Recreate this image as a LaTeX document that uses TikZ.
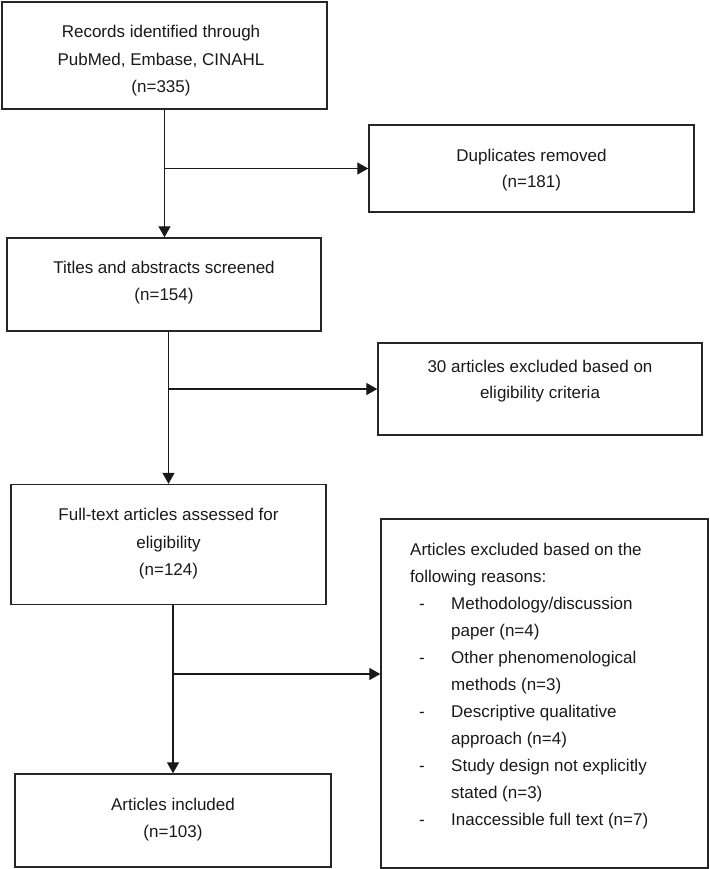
\documentclass[tikz,border=0pt]{standalone}
\usepackage{fontspec}
\setmainfont{Liberation Sans}
\usetikzlibrary{arrows.meta}
\newcommand{\itm}[1]{\makebox[41pt][l]{\hspace*{9pt}-}#1}
\newcommand{\cnt}[1]{\hspace*{41pt}#1}
\begin{document}
\begin{tikzpicture}[x=1pt,y=-1pt,
  box/.style={draw=black!85, line width=1.4pt, inner sep=0pt},
  txt/.style={align=center, inner sep=0pt, font=\fontsize{17}{27.5}\selectfont, text=black!90},
  ln/.style={line width=1.3pt, draw=black!90},
  arr/.style={ln, -{Triangle[length=11pt,width=12pt]}}]
\useasboundingbox (0,0) rectangle (709,869);
% boxes
\node[box, minimum width=325pt, minimum height=107pt] (b1) at (164.5,55.5) {};
\node[box, minimum width=325pt, minimum height=87pt] (b2) at (531.5,168.5) {};
\node[box, minimum width=314pt, minimum height=93pt] (b3) at (164,284.5) {};
\node[box, minimum width=324pt, minimum height=92pt] (b4) at (540,389) {};
\node[box, minimum width=315pt, minimum height=120pt] (b5) at (168.5,544.5) {};
\node[box, minimum width=327pt, minimum height=349pt] (b6) at (544.5,693.5) {};
\node[box, minimum width=316pt, minimum height=93pt] (b7) at (173,820.5) {};
% texts
\node[txt] (t1) at (161,61) {Records identified through\\PubMed, Embase, CINAHL\\(n=335)};
\node[txt, font=\fontsize{17}{25.5}\selectfont] (t2) at (531.5,170) {Duplicates removed\\(n=181)};
\node[txt, font=\fontsize{17}{26.5}\selectfont] (t3) at (164,282.5) {Titles and abstracts screened\\(n=154)};
\node[txt, font=\fontsize{17}{26.7}\selectfont] (t4) at (540,381) {30 articles excluded based on\\eligibility criteria};
\node[txt] (t5) at (168.5,544) {Full-text articles assessed for\\eligibility\\(n=124)};
\node[txt, font=\fontsize{17}{27}\selectfont, align=left, anchor=north west] (t6) at (410,543)
  {Articles excluded based on the\\
   following reasons:\\
   \itm{Methodology/discussion}\\
   \cnt{paper (n=4)}\\
   \itm{Other phenomenological}\\
   \cnt{methods (n=3)}\\
   \itm{Descriptive qualitative}\\
   \cnt{approach (n=4)}\\
   \itm{Study design not explicitly}\\
   \cnt{stated (n=3)}\\
   \itm{Inaccessible full text (n=7)}};
\node[txt, font=\fontsize{17}{27.4}\selectfont] (t7) at (173,819.5) {Articles included\\(n=103)};
% connectors
\coordinate (j1) at (b1.south |- b2.west);
\draw[arr] (b1.south) -- (b1.south |- b3.north);
\draw[arr] (j1) -- (b2.west);
\coordinate (j2) at (b5.north |- b4.west);
\draw[arr] (b5.north |- b3.south) -- (b5.north);
\draw[arr] (j2) -- (b4.west);
\coordinate (j3) at (173,674);
\draw[arr] (b7.north |- b5.south) -- (b7.north);
\draw[arr] (j3) -- (j3 -| b6.west);
\end{tikzpicture}
\end{document}
